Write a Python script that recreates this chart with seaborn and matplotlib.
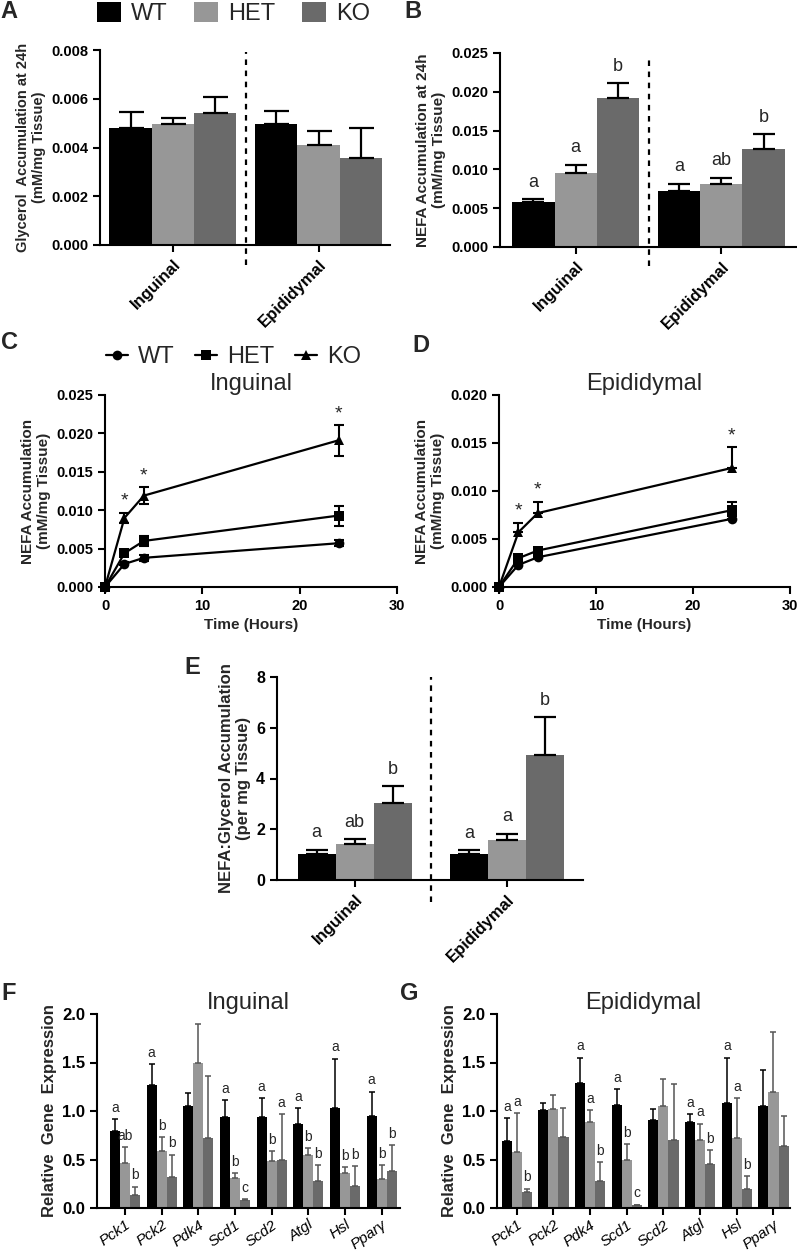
"""
Lipolysis figure: glycerol / NEFA release and lipolytic gene expression
for WT, HET and KO adipose depots (panels A-G).
"""

import numpy as np
import pandas as pd
import matplotlib
matplotlib.use("Agg")
import matplotlib.pyplot as plt
from matplotlib.patches import Patch
from matplotlib.lines import Line2D
import seaborn as sns

GENOS = ["WT", "HET", "KO"]
DEPOTS = ["Inguinal", "Epididymal"]
COLORS = {"WT": "#000000", "HET": "#979797", "KO": "#6a6a6a"}

# --- A: glycerol accumulation at 24h (Inguinal, Epididymal)
gly_wt = [0.00478, 0.00497]
gly_het = [0.00497, 0.00410]
gly_ko = [0.00540, 0.00356]
gly_wt_err = [0.00067, 0.00052]
gly_het_err = [0.00026, 0.00059]
gly_ko_err = [0.00067, 0.00126]

# --- B: NEFA accumulation at 24h
nefa_wt = [0.00580, 0.00725]
nefa_het = [0.00948, 0.00815]
nefa_ko = [0.01925, 0.01258]
nefa_wt_err = [0.00040, 0.00090]
nefa_het_err = [0.00115, 0.00078]
nefa_ko_err = [0.00190, 0.00195]
nefa_letters = {"WT": ["a", "a"], "HET": ["a", "ab"], "KO": ["b", "b"]}

# --- C / D: NEFA time course
hours = [0, 2, 4, 24]
ing_wt = [0.0, 0.0030, 0.0038, 0.0057]
ing_het = [0.0, 0.0044, 0.0060, 0.0093]
ing_ko = [0.0, 0.0090, 0.0119, 0.0191]
ing_wt_err = [0.0, 0.0002, 0.0004, 0.0004]
ing_het_err = [0.0, 0.0004, 0.0006, 0.0013]
ing_ko_err = [0.0, 0.0007, 0.0011, 0.0020]

epi_wt = [0.0, 0.0023, 0.0031, 0.0071]
epi_het = [0.0, 0.0030, 0.0038, 0.0080]
epi_ko = [0.0, 0.0057, 0.0077, 0.0124]
epi_wt_err = [0.0, 0.0002, 0.0002, 0.0003]
epi_het_err = [0.0, 0.0003, 0.0003, 0.0009]
epi_ko_err = [0.0, 0.0010, 0.0012, 0.0022]
star_hours = [2, 4, 24]

# --- E: NEFA:glycerol ratio
ratio_wt = [1.02, 1.02]
ratio_het = [1.42, 1.56]
ratio_ko = [3.02, 4.94]
ratio_wt_err = [0.17, 0.15]
ratio_het_err = [0.18, 0.26]
ratio_ko_err = [0.68, 1.49]
ratio_letters = {"WT": ["a", "a"], "HET": ["ab", "a"], "KO": ["b", "b"]}

# --- F / G: relative gene expression
genes = ["Pck1", "Pck2", "Pdk4", "Scd1", "Scd2", "Atgl", "Hsl", "Ppar\u03b3"]

ingx_wt = [0.79, 1.27, 1.05, 0.94, 0.94, 0.87, 1.03, 0.95]
ingx_het = [0.46, 0.59, 1.50, 0.31, 0.48, 0.55, 0.36, 0.30]
ingx_ko = [0.13, 0.32, 0.72, 0.08, 0.50, 0.28, 0.23, 0.38]
ingx_wt_err = [0.13, 0.21, 0.14, 0.17, 0.19, 0.16, 0.51, 0.25]
ingx_het_err = [0.17, 0.14, 0.40, 0.05, 0.11, 0.07, 0.06, 0.14]
ingx_ko_err = [0.09, 0.23, 0.64, 0.01, 0.47, 0.16, 0.20, 0.27]
ingx_letters = {
    "WT": ["a", "a", "", "a", "a", "a", "a", "a"],
    "HET": ["ab", "b", "", "b", "b", "b", "b", "b"],
    "KO": ["b", "b", "", "c", "a", "b", "b", "b"],
}

epix_wt = [0.69, 1.01, 1.29, 1.06, 0.91, 0.89, 1.08, 1.05]
epix_het = [0.58, 1.02, 0.89, 0.50, 1.05, 0.70, 0.72, 1.20]
epix_ko = [0.16, 0.73, 0.28, 0.03, 0.70, 0.45, 0.20, 0.64]
epix_wt_err = [0.24, 0.07, 0.26, 0.17, 0.11, 0.08, 0.47, 0.37]
epix_het_err = [0.40, 0.14, 0.12, 0.16, 0.28, 0.17, 0.41, 0.61]
epix_ko_err = [0.04, 0.30, 0.19, 0.005, 0.58, 0.15, 0.13, 0.31]
epix_letters = {
    "WT": ["a", "", "a", "a", "", "a", "a", ""],
    "HET": ["a", "", "a", "b", "", "a", "a", ""],
    "KO": ["b", "", "b", "c", "", "b", "b", ""],
}

W, H = 797, 1251

sns.set_theme(style="ticks")
plt.rcParams["font.family"] = ["Liberation Sans", "DejaVu Sans"]
plt.rcParams["axes.linewidth"] = 1.5
for k in ("xtick", "ytick"):
    plt.rcParams[f"{k}.major.width"] = 1.5
    plt.rcParams[f"{k}.major.size"] = 5
    plt.rcParams[f"{k}.color"] = "black"
plt.rcParams["axes.edgecolor"] = "black"


def add_ax(fig, left, top, right, bottom):
    """Axes from pixel box (origin top-left)."""
    return fig.add_axes([left / W, 1 - bottom / H, (right - left) / W, (bottom - top) / H])


def long_frame(cats, wt, het, ko):
    rows = []
    for g, vals in zip(GENOS, (wt, het, ko)):
        for c, v in zip(cats, vals):
            rows.append({"cat": c, "geno": g, "val": v})
    return pd.DataFrame(rows)


def draw_bars(ax, cats, wt, het, ko, errs, width, capsize, elw, ecolors,
              letters=None, letter_size=13, letter_pad=4):
    df = long_frame(cats, wt, het, ko)
    sns.barplot(data=df, x="cat", y="val", hue="geno", order=cats, hue_order=GENOS,
                palette=COLORS, width=width, gap=0, errorbar=None, saturation=1,
                linewidth=0, legend=False, ax=ax)
    for g, cont, err in zip(GENOS, ax.containers, errs):
        xs = [b.get_x() + b.get_width() / 2 for b in cont]
        hs = [b.get_height() for b in cont]
        ax.errorbar(xs, hs, yerr=[np.zeros(len(xs)), err], fmt="none",
                    ecolor=ecolors[g], elinewidth=elw, capsize=capsize,
                    capthick=elw, zorder=3)
        if letters:
            for x, h, e, lab in zip(xs, hs, err, letters[g]):
                if lab:
                    ax.annotate(lab, (x, h + e), xytext=(0, letter_pad),
                                textcoords="offset points", ha="center", va="bottom",
                                fontsize=letter_size, annotation_clip=False)


def style_bar_axis(ax, ylim, step, fmt, xlim, ylabel, lab_size, tick_size,
                   dash=None):
    ax.set_ylim(*ylim)
    ax.set_yticks(np.arange(ylim[0], ylim[1] + step / 2, step))
    ax.set_yticklabels([fmt % v for v in ax.get_yticks()], fontweight="bold",
                       fontsize=tick_size)
    ax.set_xlim(*xlim)
    ax.set_xlabel("")
    ax.set_ylabel(ylabel, fontweight="bold", fontsize=lab_size, linespacing=1.1)
    sns.despine(ax=ax)
    if dash is not None:
        ax.axvline(0.5, ymin=dash[0], ymax=dash[1], color="black", lw=1.6,
                   ls=(0, (2.5, 2.5)), clip_on=False)


def depot_ticks(ax, size):
    ax.set_xticks([0, 1])
    ax.set_xticklabels(DEPOTS, rotation=45, ha="right", rotation_mode="anchor",
                       fontweight="bold", fontsize=size)


def ko_top(ko, err, i):
    return ko[i] + err[i]


def draw_course(ax, wt, het, ko, errs, upper_only, title, ylim, step):
    rows = []
    for g, vals in zip(GENOS, (wt, het, ko)):
        for t, v in zip(hours, vals):
            rows.append({"time": t, "val": v, "geno": g})
    df = pd.DataFrame(rows)
    sns.lineplot(data=df, x="time", y="val", style="geno", style_order=GENOS,
                 markers={"WT": "o", "HET": "s", "KO": "^"}, dashes=False,
                 color="black", markersize=7, markeredgewidth=0, linewidth=1.6,
                 legend=False, ax=ax, clip_on=False, zorder=4)
    for vals, err in zip((wt, het, ko), errs):
        lower = np.zeros(len(err)) if upper_only else err
        ax.errorbar(hours, vals, yerr=[lower, err], fmt="none", ecolor="black",
                    elinewidth=1.5, capsize=3.5, capthick=1.5, zorder=3)
    for t in star_hours:
        i = hours.index(t)
        ax.annotate("*", (t, ko_top(ko, errs[2], i)), xytext=(0, 2),
                    textcoords="offset points", ha="center", va="bottom",
                    fontsize=14, annotation_clip=False)
    ax.set_xlim(0, 30)
    ax.set_xticks([0, 10, 20, 30])
    ax.set_xticklabels(["0", "10", "20", "30"], fontweight="bold", fontsize=10.5)
    ax.set_ylim(*ylim)
    ax.set_yticks(np.arange(ylim[0], ylim[1] + step / 2, step))
    ax.set_yticklabels(["%.3f" % v for v in ax.get_yticks()], fontweight="bold",
                       fontsize=10.5)
    ax.set_xlabel("Time (Hours)", fontweight="bold", fontsize=11)
    ax.set_ylabel("NEFA Accumulation\n(mM/mg Tissue)", fontweight="bold",
                  fontsize=11, linespacing=1.1)
    ax.set_title(title, fontsize=17, pad=-6)
    sns.despine(ax=ax)


def gene_panel(ax, wt, het, ko, errs, letters, title, xlim):
    ecol = {"WT": "#000000", "HET": "#555555", "KO": "#555555"}
    draw_bars(ax, genes, wt, het, ko, errs, width=0.82, capsize=2.5, elw=1.1,
              ecolors=ecol, letters=letters, letter_size=10, letter_pad=3)
    style_bar_axis(ax, (0, 2.0), 0.5, "%.1f", xlim,
                   "Relative  Gene  Expression", 12, 12)
    ax.set_xticks(range(len(genes)))
    ax.set_xticklabels(genes, rotation=35, ha="right", rotation_mode="anchor",
                       fontstyle="italic", fontsize=11)
    ax.tick_params(axis="x", pad=2)
    ax.set_title(title, fontsize=17, pad=2)


fig = plt.figure(figsize=(W / 100, H / 100), dpi=100)

# A
axA = add_ax(fig, 100, 50, 390, 245)
draw_bars(axA, DEPOTS, gly_wt, gly_het, gly_ko,
          [gly_wt_err, gly_het_err, gly_ko_err], width=0.87, capsize=9, elw=1.6,
          ecolors={g: "black" for g in GENOS})
style_bar_axis(axA, (0, 0.008), 0.002, "%.3f", (-0.5, 1.49),
               "Glycerol  Accumulation at 24h\n(mM/mg Tissue)", 10.5, 10.5,
               dash=(-0.1, 0.99))
depot_ticks(axA, 12)

# B
axB = add_ax(fig, 500, 53, 797, 247)
draw_bars(axB, DEPOTS, nefa_wt, nefa_het, nefa_ko,
          [nefa_wt_err, nefa_het_err, nefa_ko_err], width=0.87, capsize=8, elw=1.6,
          ecolors={g: "black" for g in GENOS}, letters=nefa_letters,
          letter_size=13, letter_pad=6)
style_bar_axis(axB, (0, 0.025), 0.005, "%.3f", (-0.52, 1.52),
               "NEFA Accumulation at 24h\n(mM/mg Tissue)", 11, 10.5,
               dash=(-0.1, 0.99))
depot_ticks(axB, 12)

# C / D
axC = add_ax(fig, 105, 395, 397, 587)
draw_course(axC, ing_wt, ing_het, ing_ko, [ing_wt_err, ing_het_err, ing_ko_err],
            False, "Inguinal", (0, 0.025), 0.005)
axD = add_ax(fig, 499, 395, 790, 587)
draw_course(axD, epi_wt, epi_het, epi_ko, [epi_wt_err, epi_het_err, epi_ko_err],
            True, "Epididymal", (0, 0.020), 0.005)

# E
axE = add_ax(fig, 277, 677, 583, 880)
draw_bars(axE, DEPOTS, ratio_wt, ratio_het, ratio_ko,
          [ratio_wt_err, ratio_het_err, ratio_ko_err], width=0.75, capsize=8, elw=1.6,
          ecolors={g: "black" for g in GENOS}, letters=ratio_letters,
          letter_size=13, letter_pad=6)
style_bar_axis(axE, (0, 8), 2, "%d", (-0.51, 1.5),
               "NEFA:Glycerol Accumulation\n(per mg Tissue)", 12, 11.5,
               dash=(-0.11, 1.0))
depot_ticks(axE, 12)

# F / G
axF = add_ax(fig, 97, 1014, 400, 1208)
gene_panel(axF, ingx_wt, ingx_het, ingx_ko, [ingx_wt_err, ingx_het_err, ingx_ko_err],
           ingx_letters, "Inguinal", (-0.76, 7.5))
axG = add_ax(fig, 497, 1014, 790, 1208)
gene_panel(axG, epix_wt, epix_het, epix_ko, [epix_wt_err, epix_het_err, epix_ko_err],
           epix_letters, "Epididymal", (-0.54, 7.45))

# legends
bar_handles = [Patch(facecolor=COLORS[g], edgecolor="none") for g in GENOS]
fig.legend(bar_handles, GENOS, loc="upper left", bbox_to_anchor=(97 / W, 1 - 2 / H),
           ncol=3, frameon=False, fontsize=17, handlelength=1.0, handleheight=0.9,
           handletextpad=0.42, columnspacing=1.15, borderpad=0, borderaxespad=0)

mk = {"WT": "o", "HET": "s", "KO": "^"}
line_handles = [Line2D([], [], color="black", lw=1.6, marker=mk[g], markersize=7,
                       markeredgewidth=0) for g in GENOS]
fig.legend(line_handles, GENOS, loc="upper left", bbox_to_anchor=(106 / W, 1 - 346 / H),
           ncol=3, frameon=False, fontsize=17, handlelength=0.95,
           handletextpad=0.42, columnspacing=0.85, borderpad=0, borderaxespad=0)

# panel letters
for lab, x, y in [("A", 9, 12), ("B", 413, 12), ("C", 9, 342), ("D", 421, 345),
                  ("E", 192, 667), ("F", 9, 993), ("G", 409, 993)]:
    fig.text(x / W, 1 - y / H, lab, fontsize=17, fontweight="bold",
             ha="center", va="center")

fig.savefig("out.png", dpi=100)
